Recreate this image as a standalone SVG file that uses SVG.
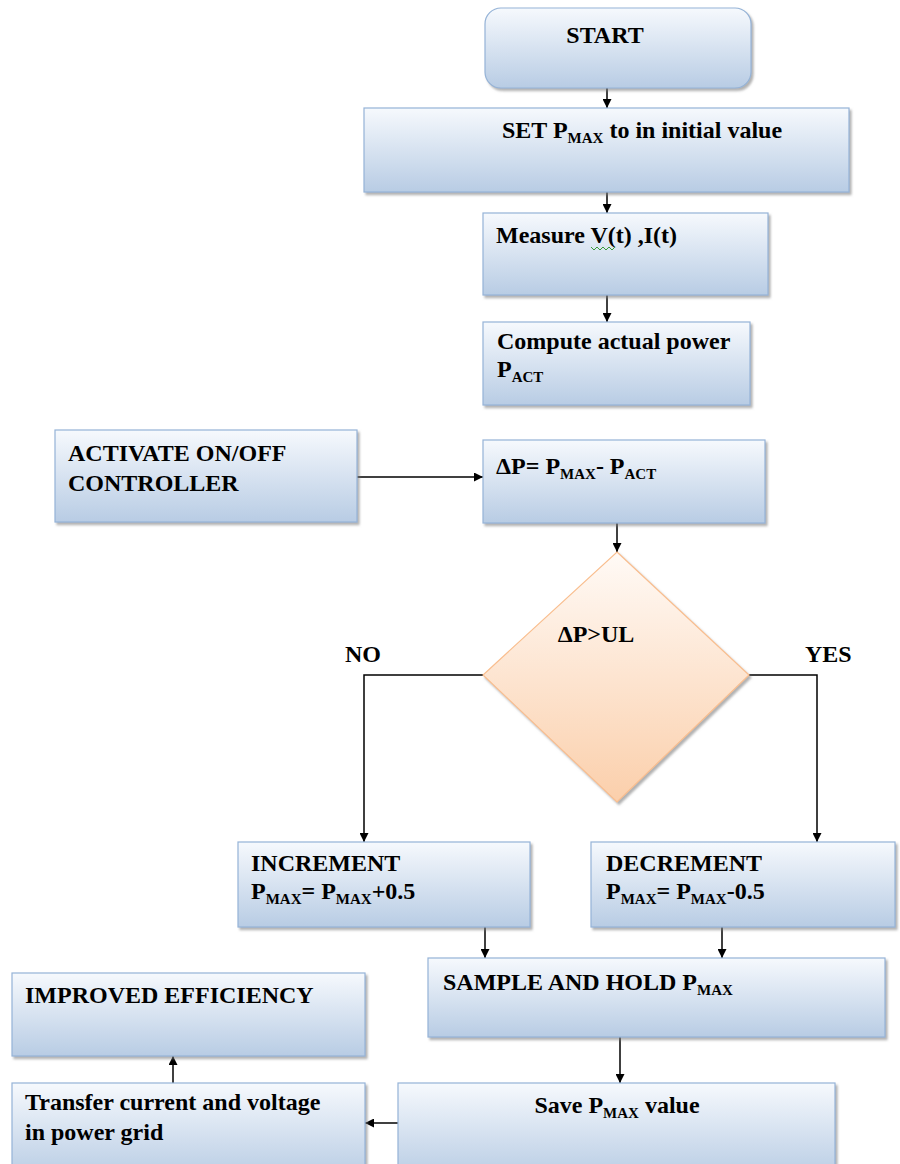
<svg xmlns="http://www.w3.org/2000/svg" width="900" height="1164" viewBox="0 0 900 1164">
<style>
.box{fill:url(#bg);stroke:#95b3d7;stroke-width:1.2;filter:url(#sh)}
.dia{fill:url(#og);stroke:#f9be8f;stroke-width:1.2;filter:url(#sh)}
text{font-family:"Liberation Serif","Times New Roman",serif;font-weight:bold;font-size:24px;fill:#000}
.sub{font-size:15px}
.c{stroke:#000;stroke-width:1.5;fill:none;marker-end:url(#ah)}
</style>
<defs>
<linearGradient id="bg" x1="0" y1="0" x2="0" y2="1">
<stop offset="0" stop-color="#f6f9fd"/>
<stop offset="1" stop-color="#b8cce4"/>
</linearGradient>
<linearGradient id="og" x1="0" y1="0" x2="0" y2="1">
<stop offset="0" stop-color="#fffaf6"/>
<stop offset="1" stop-color="#fbcfab"/>
</linearGradient>
<filter id="sh" x="-5%" y="-5%" width="115%" height="120%">
<feDropShadow dx="2" dy="2.5" stdDeviation="1" flood-color="#7f7f7f" flood-opacity="0.6"/>
</filter>
<marker id="ah" viewBox="0 0 10 10" refX="10" refY="5" markerWidth="9" markerHeight="9" markerUnits="userSpaceOnUse" orient="auto">
<path d="M0,0 L10,5 L0,10 Z" fill="#000"/>
</marker>
</defs>

<g id="connectors">
<line class="c" x1="607" y1="88" x2="607" y2="108"/>
<line class="c" x1="607" y1="192" x2="607" y2="213"/>
<line class="c" x1="607" y1="295" x2="607" y2="322"/>
<line class="c" x1="357" y1="477" x2="483" y2="477"/>
<line class="c" x1="617" y1="523" x2="617" y2="552"/>
<polyline class="c" points="483,675 364,675 364,842"/>
<polyline class="c" points="749,675 817,675 817,842"/>
<line class="c" x1="485" y1="927" x2="485" y2="958"/>
<line class="c" x1="722" y1="927" x2="722" y2="958"/>
<line class="c" x1="620" y1="1037" x2="620" y2="1083"/>
<line class="c" x1="398" y1="1123" x2="365" y2="1123"/>
<line class="c" x1="173" y1="1083" x2="173" y2="1056"/>
</g>

<g id="start">
<rect class="box" x="485" y="8" width="266" height="80" rx="16"/>
<text x="605" y="43" text-anchor="middle">START</text>
</g>

<g id="set-pmax">
<rect class="box" x="364" y="108" width="485" height="84"/>
<text x="502" y="138">SET P<tspan class="sub" dy="5">MAX</tspan><tspan dy="-5"> to in initial value</tspan></text>
</g>

<g id="measure">
<rect class="box" x="483" y="213" width="285" height="82"/>
<text x="496" y="243">Measure V(t) ,I(t)</text>
<polyline points="591,247 594,250 597,247 600,250 603,247 606,250 609,247 612,250 615,247" fill="none" stroke="#3a9a3a" stroke-width="1"/>
</g>

<g id="compute">
<rect class="box" x="483" y="322" width="267" height="83"/>
<text x="497" y="349">Compute actual power</text>
<text x="497" y="377">P<tspan class="sub" dy="5">ACT</tspan></text>
</g>

<g id="activate">
<rect class="box" x="55" y="430" width="302" height="92"/>
<text x="68" y="461">ACTIVATE ON/OFF</text>
<text x="68" y="491">CONTROLLER</text>
</g>

<g id="delta-p">
<rect class="box" x="483" y="440" width="282" height="83"/>
<text x="496" y="474">ΔP= P<tspan class="sub" dy="5">MAX</tspan><tspan dy="-5">- P</tspan><tspan class="sub" dy="5">ACT</tspan></text>
</g>

<g id="decision">
<polygon class="dia" points="617,552 749,675 617,802 483,675"/>
<text x="596" y="642" text-anchor="middle">ΔP&gt;UL</text>
</g>

<g id="label-no"><text x="345" y="662">NO</text></g>
<g id="label-yes"><text x="805" y="662">YES</text></g>

<g id="increment">
<rect class="box" x="238" y="842" width="292" height="85"/>
<text x="251" y="871">INCREMENT</text>
<text x="251" y="899">P<tspan class="sub" dy="5">MAX</tspan><tspan dy="-5">= P</tspan><tspan class="sub" dy="5">MAX</tspan><tspan dy="-5">+0.5</tspan></text>
</g>

<g id="decrement">
<rect class="box" x="591" y="842" width="304" height="85"/>
<text x="606" y="871">DECREMENT</text>
<text x="606" y="899">P<tspan class="sub" dy="5">MAX</tspan><tspan dy="-5">= P</tspan><tspan class="sub" dy="5">MAX</tspan><tspan dy="-5">-0.5</tspan></text>
</g>

<g id="sample-hold">
<rect class="box" x="428" y="958" width="457" height="79"/>
<text x="443" y="990">SAMPLE AND HOLD  P<tspan class="sub" dy="5">MAX</tspan></text>
</g>

<g id="improved">
<rect class="box" x="12" y="973" width="353" height="83"/>
<text x="25" y="1003">IMPROVED EFFICIENCY</text>
</g>

<g id="transfer">
<rect class="box" x="12" y="1083" width="353" height="95"/>
<text x="25" y="1110">Transfer current and voltage</text>
<text x="25" y="1140">in power grid</text>
</g>

<g id="save">
<rect class="box" x="398" y="1083" width="437" height="95"/>
<text x="617" y="1113" text-anchor="middle">Save P<tspan class="sub" dy="5">MAX</tspan><tspan dy="-5"> value</tspan></text>
</g>
</svg>
